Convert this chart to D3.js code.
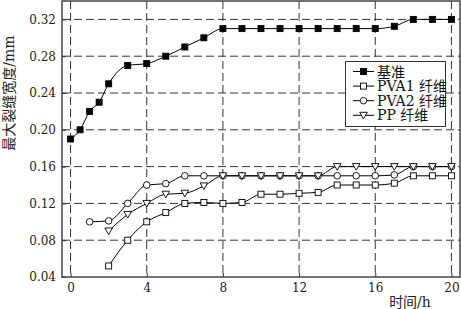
<!DOCTYPE html>
<html>
<head>
<meta charset="utf-8">
<script src="https://cdn.jsdelivr.net/npm/d3@7"></script>
<style>
  body { margin: 0; background: #fff; }
  svg { display: block; }
</style>
</head>
<body>
<svg id="chart" width="461" height="309"></svg>
<script>
// data
const hours = [0, 0.5, 1, 1.5, 2, 3, 4, 5, 6, 7, 8, 9, 10, 11, 12, 13, 14, 15, 16, 17, 18, 19, 20];
const baseVals = [0.19, 0.20, 0.22, 0.23, 0.25, 0.27, 0.272, 0.28, 0.29, 0.30, 0.31, 0.31, 0.31, 0.31, 0.31, 0.31, 0.31, 0.31, 0.31, 0.3125, 0.32, 0.32, 0.32];

const pva1Hours = [2, 3, 4, 5, 6, 7, 8, 9, 10, 11, 12, 13, 14, 15, 16, 17, 18, 19, 20];
const pva1Vals = [0.052, 0.08, 0.10, 0.11, 0.12, 0.121, 0.12, 0.121, 0.13, 0.13, 0.131, 0.132, 0.14, 0.14, 0.14, 0.142, 0.15, 0.15, 0.15];

const pva2Hours = [1, 2, 3, 4, 5, 6, 7, 8, 9, 10, 11, 12, 13, 14, 15, 16, 17, 18, 19, 20];
const pva2Vals = [0.10, 0.101, 0.12, 0.14, 0.1415, 0.15, 0.15, 0.15, 0.15, 0.15, 0.15, 0.15, 0.15, 0.15, 0.15, 0.15, 0.151, 0.16, 0.16, 0.16];

const ppHours = [2, 3, 4, 5, 6, 7, 8, 9, 10, 11, 12, 13, 14, 15, 16, 17, 18, 19, 20];
const ppVals = [0.09, 0.108, 0.12, 0.13, 0.131, 0.139, 0.15, 0.15, 0.15, 0.15, 0.15, 0.15, 0.16, 0.16, 0.16, 0.16, 0.16, 0.16, 0.16];

const xTicks = [0, 4, 8, 12, 16, 20];
const yTicks = [0.04, 0.08, 0.12, 0.16, 0.20, 0.24, 0.28, 0.32];
const legendNames = ["基准", "PVA1 纤维", "PVA2 纤维", "PP 纤维"];

const svg = d3.select("#chart");
const plotL = 62, plotR = 460, plotT = 1, plotB = 277;

const x = d3.scaleLinear().domain([-0.45, 20.45]).range([plotL, plotR]);
const y = d3.scaleLinear().domain([0.04, 0.34]).range([plotB, plotT]);

const serifFont = "'DejaVu Serif', 'Noto Sans CJK SC', serif";

// grid lines
svg.append("g").selectAll("line")
    .data(xTicks)
    .join("line")
    .attr("x1", d => x(d)).attr("x2", d => x(d))
    .attr("y1", plotT).attr("y2", plotB)
    .attr("stroke", "#333")
    .attr("stroke-width", 1)
    .attr("stroke-dasharray", "8,4");

svg.append("g").selectAll("line")
    .data(yTicks.slice(1))
    .join("line")
    .attr("x1", plotL).attr("x2", plotR)
    .attr("y1", d => y(d)).attr("y2", d => y(d))
    .attr("stroke", "#333")
    .attr("stroke-width", 1)
    .attr("stroke-dasharray", "8,4");

// frame
svg.append("rect")
    .attr("x", plotL).attr("y", plotT)
    .attr("width", plotR - plotL).attr("height", plotB - plotT)
    .attr("fill", "none")
    .attr("stroke", "#444")
    .attr("stroke-width", 1.5);

// axes (ticks inside)
const xAxis = svg.append("g")
    .attr("transform", `translate(0,${plotB})`)
    .call(d3.axisBottom(x).tickValues(xTicks).tickSize(-4).tickPadding(6).tickFormat(d3.format("d")));
const yAxis = svg.append("g")
    .attr("transform", `translate(${plotL},0)`)
    .call(d3.axisLeft(y).tickValues(yTicks).tickSize(-4).tickPadding(6).tickFormat(d3.format(".2f")));

[xAxis, yAxis].forEach(a => {
    a.select(".domain").remove();
    a.selectAll(".tick line").attr("stroke", "#333");
    a.selectAll("text")
        .attr("fill", "#222")
        .attr("font-family", serifFont)
        .attr("font-size", 12);
});

// axis titles
svg.append("text")
    .attr("transform", `translate(14,93) rotate(-90)`)
    .attr("text-anchor", "middle")
    .attr("font-family", serifFont)
    .attr("font-size", 14)
    .attr("fill", "#222")
    .text("最大裂缝宽度/mm");

svg.append("text")
    .attr("x", 410).attr("y", 307)
    .attr("text-anchor", "middle")
    .attr("font-family", serifFont)
    .attr("font-size", 14)
    .attr("fill", "#222")
    .text("时间/h");

// markers
function drawMarker(g, type, cx, cy) {
    if (type === "fsquare" || type === "square") {
        g.append("rect")
            .attr("x", cx - 3).attr("y", cy - 3)
            .attr("width", 6).attr("height", 6)
            .attr("fill", type === "fsquare" ? "#000" : "#fff")
            .attr("stroke", "#000").attr("stroke-width", 0.9);
    } else if (type === "circle") {
        g.append("circle")
            .attr("cx", cx).attr("cy", cy).attr("r", 3.3)
            .attr("fill", "#fff")
            .attr("stroke", "#000").attr("stroke-width", 0.9);
    } else {
        g.append("path")
            .attr("d", `M${cx - 3.8},${cy - 3}L${cx + 3.8},${cy - 3}L${cx},${cy + 3.6}Z`)
            .attr("fill", "#fff")
            .attr("stroke", "#000").attr("stroke-width", 0.9);
    }
}

const series = [
    { xs: hours, ys: baseVals, type: "fsquare" },
    { xs: pva1Hours, ys: pva1Vals, type: "square" },
    { xs: pva2Hours, ys: pva2Vals, type: "circle" },
    { xs: ppHours, ys: ppVals, type: "tri" }
];

const line = d3.line()
    .x(d => x(d[0]))
    .y(d => y(d[1]))
    .curve(d3.curveMonotoneX);

series.forEach(s => {
    const pts = s.xs.map((h, i) => [h, s.ys[i]]);
    svg.append("path")
        .datum(pts)
        .attr("d", line)
        .attr("fill", "none")
        .attr("stroke", "#000")
        .attr("stroke-width", 1);
});
series.forEach(s => {
    const g = svg.append("g");
    s.xs.forEach((h, i) => drawMarker(g, s.type, x(h), y(s.ys[i])));
});

// legend
const legend = svg.append("g");
legend.append("rect")
    .attr("x", 345.5).attr("y", 61.5)
    .attr("width", 100).attr("height", 65)
    .attr("fill", "#fff")
    .attr("stroke", "#333").attr("stroke-width", 1);

legendNames.forEach((name, i) => {
    const ly = 71.5 + i * 14.6;
    legend.append("line")
        .attr("x1", 353).attr("x2", 374)
        .attr("y1", ly).attr("y2", ly)
        .attr("stroke", "#000").attr("stroke-width", 1);
    drawMarker(legend, series[i].type, 363.5, ly);
    legend.append("text")
        .attr("x", 377).attr("y", ly + 5)
        .attr("font-family", serifFont)
        .attr("font-size", 14)
        .attr("fill", "#111")
        .text(name);
});
</script>
</body>
</html>
